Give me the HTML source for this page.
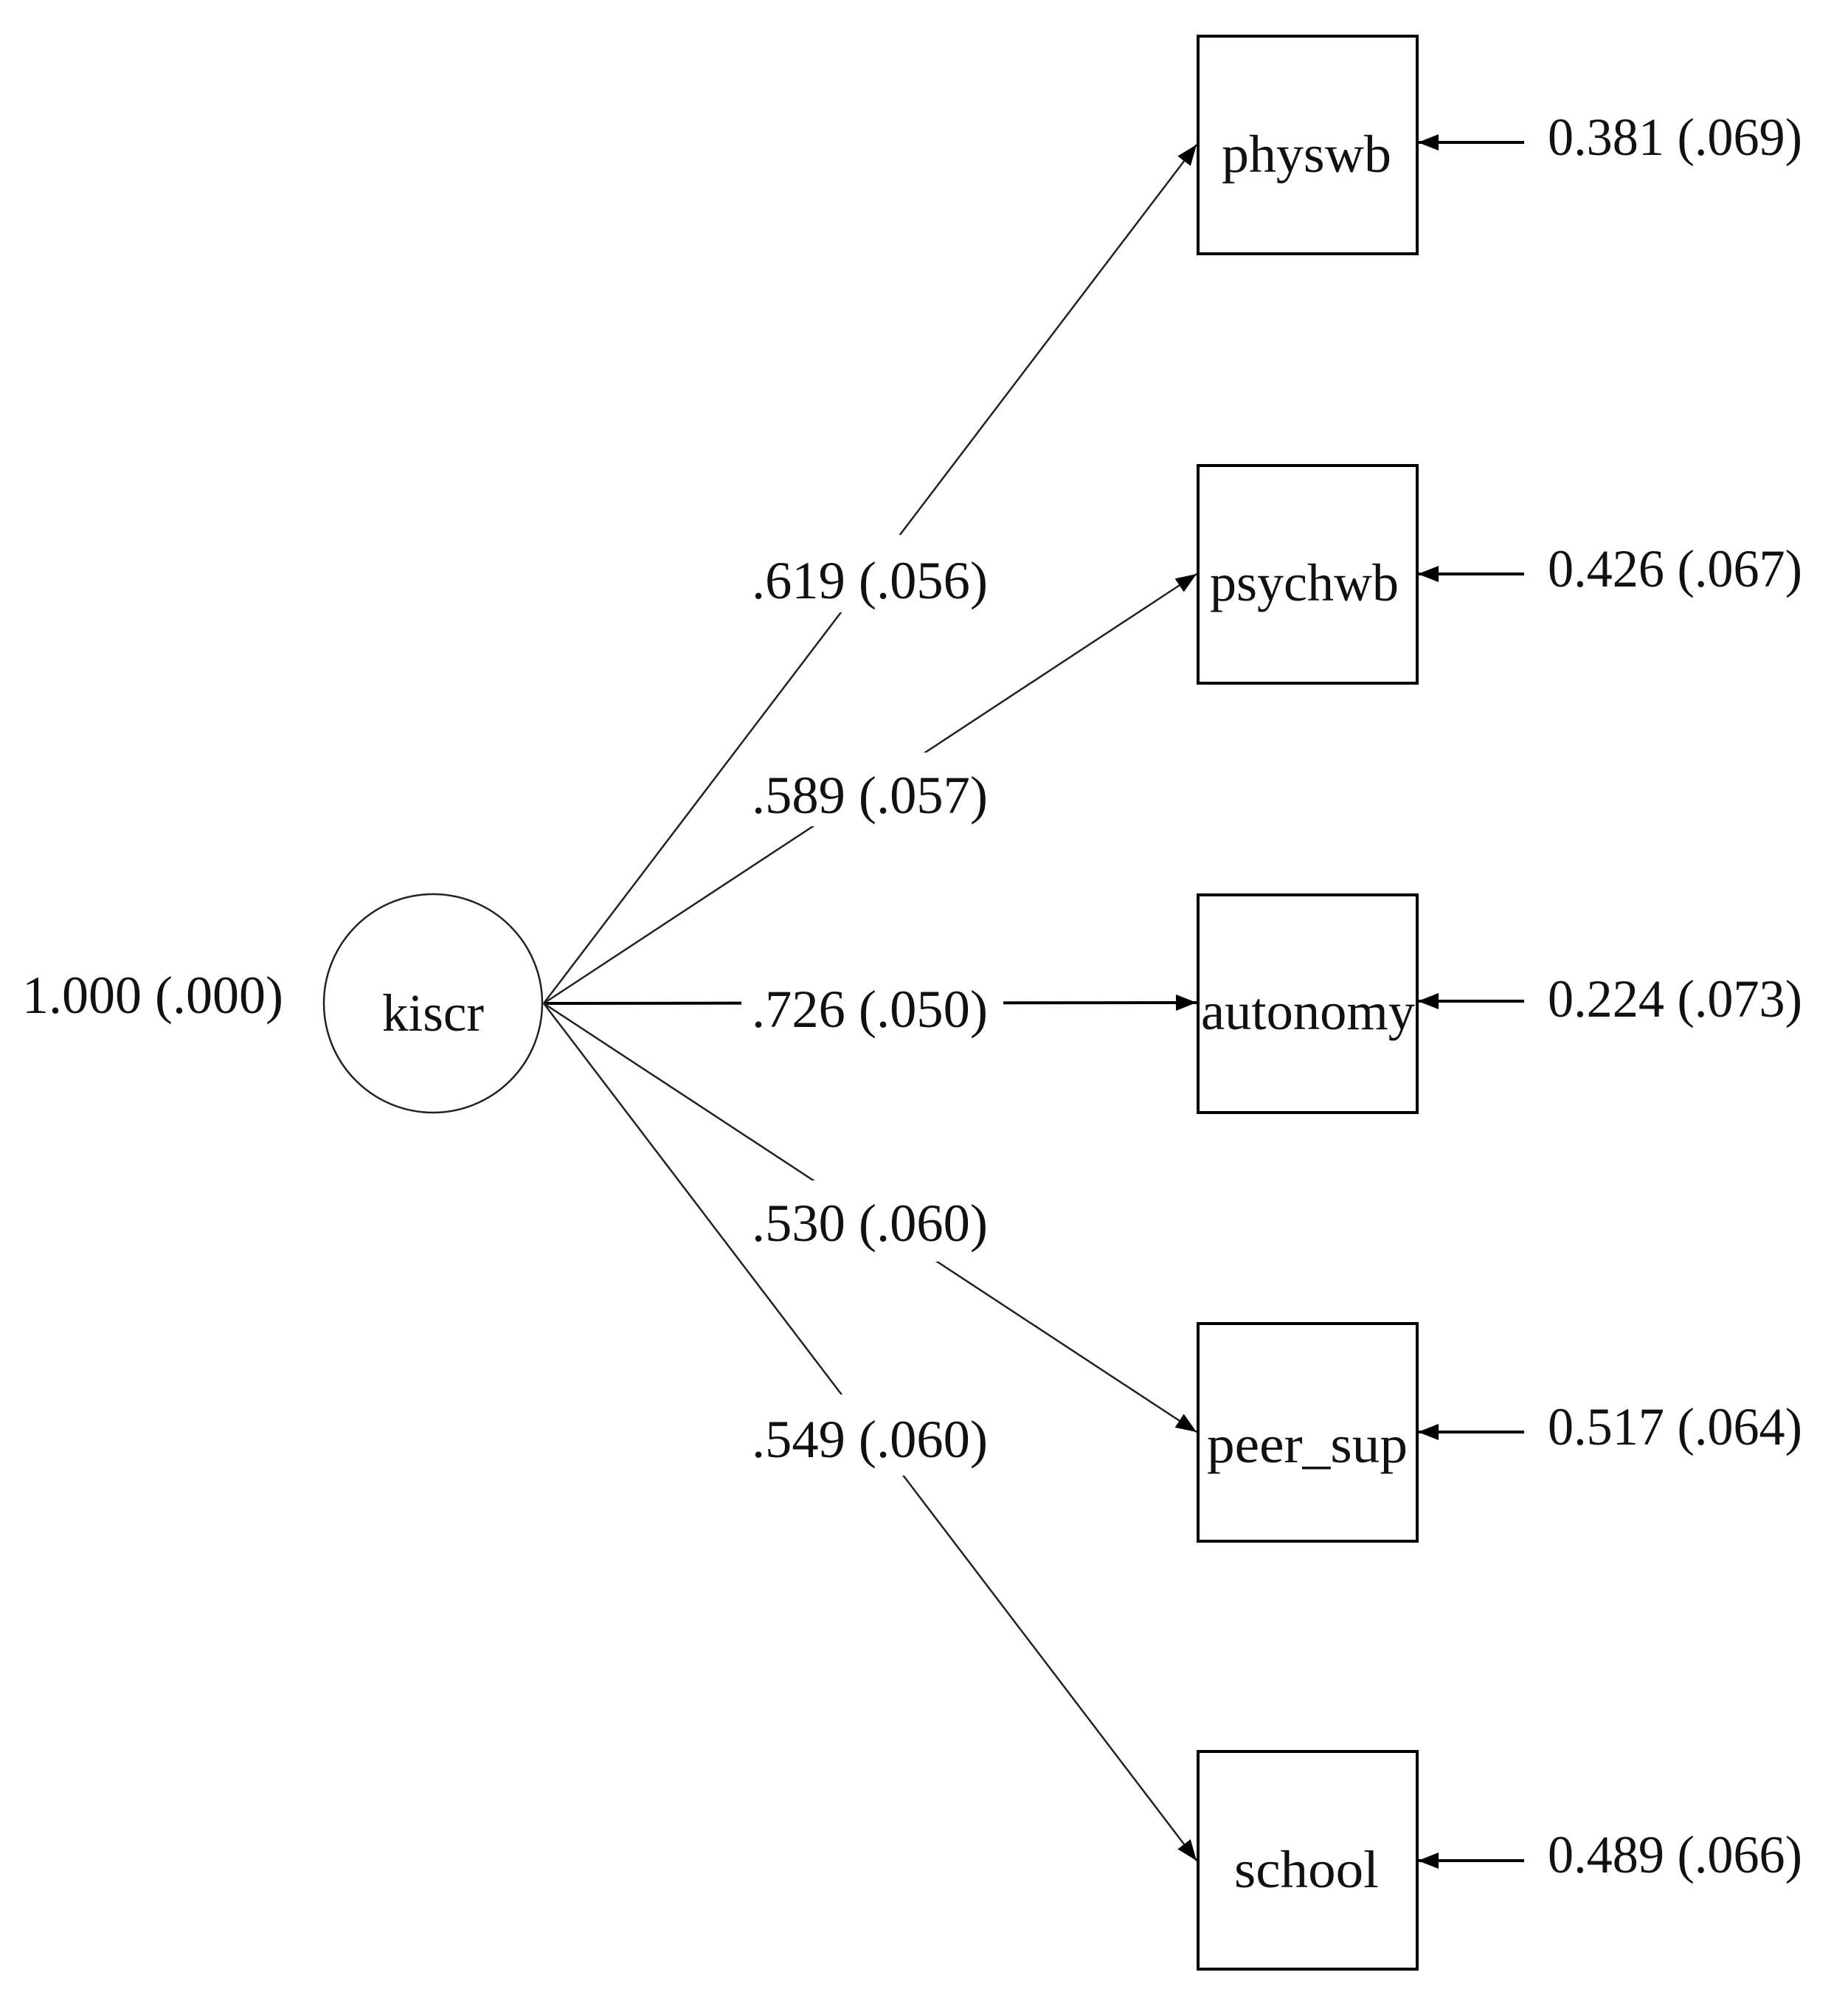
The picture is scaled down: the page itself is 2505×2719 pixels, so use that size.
<!DOCTYPE html>
<html><head><meta charset="utf-8"><style>
html,body{margin:0;padding:0;background:#fff;}
svg{display:block;}
text{font-family:"Liberation Serif",serif;fill:#111;}
</style></head><body>
<svg width="2505" height="2719" viewBox="0 0 2505 2719" xmlns="http://www.w3.org/2000/svg">
<defs>
<marker id="ah" markerWidth="30" markerHeight="22" refX="28" refY="11" orient="auto" markerUnits="userSpaceOnUse">
<path d="M0,0 L28,11 L0,22 Z" fill="#000"/>
</marker>
</defs>
<!-- loading paths -->
<g stroke="#222" stroke-width="2.5" fill="none">
<line x1="737" y1="1360" x2="1622" y2="196" marker-end="url(#ah)"/>
<line x1="737" y1="1360" x2="1622" y2="778" marker-end="url(#ah)"/>
<line x1="737" y1="1360" x2="1622" y2="1359" stroke="#000" stroke-width="4" marker-end="url(#ah)"/>
<line x1="737" y1="1360" x2="1622" y2="1941" marker-end="url(#ah)"/>
<line x1="737" y1="1360" x2="1622" y2="2522" marker-end="url(#ah)"/>
</g>
<!-- white gaps behind path labels -->
<g fill="#fff">
<rect x="1005" y="725" width="355" height="105"/>
<rect x="1005" y="1020" width="355" height="100"/>
<rect x="1005" y="1320" width="355" height="90"/>
<rect x="1005" y="1600" width="355" height="110"/>
<rect x="1005" y="1890" width="355" height="110"/>
</g>
<g font-size="72">
<text x="1019" y="811" textLength="320" lengthAdjust="spacingAndGlyphs">.619 (.056)</text>
<text x="1019" y="1102" textLength="320" lengthAdjust="spacingAndGlyphs">.589 (.057)</text>
<text x="1019" y="1392" textLength="320" lengthAdjust="spacingAndGlyphs">.726 (.050)</text>
<text x="1019" y="1682" textLength="320" lengthAdjust="spacingAndGlyphs">.530 (.060)</text>
<text x="1019" y="1975" textLength="320" lengthAdjust="spacingAndGlyphs">.549 (.060)</text>
</g>
<!-- latent -->
<circle cx="587" cy="1360" r="148" fill="#fff" stroke="#222" stroke-width="2.5"/>
<text x="518" y="1397" font-size="72" textLength="138" lengthAdjust="spacingAndGlyphs">kiscr</text>
<text x="30" y="1373" font-size="72" textLength="354" lengthAdjust="spacingAndGlyphs">1.000 (.000)</text>
<!-- boxes -->
<g fill="#fff" stroke="#000" stroke-width="4">
<rect x="1624" y="49" width="297" height="295"/>
<rect x="1624" y="631" width="297" height="295"/>
<rect x="1624" y="1213" width="297" height="295"/>
<rect x="1624" y="1794" width="297" height="295"/>
<rect x="1624" y="2374" width="297" height="295"/>
</g>
<g font-size="72">
<text x="1656" y="233" textLength="230" lengthAdjust="spacingAndGlyphs">physwb</text>
<text x="1640" y="814" textLength="256" lengthAdjust="spacingAndGlyphs">psychwb</text>
<text x="1628" y="1395" textLength="290" lengthAdjust="spacingAndGlyphs">autonomy</text>
<text x="1636" y="1982" textLength="272" lengthAdjust="spacingAndGlyphs">peer_sup</text>
<text x="1673" y="2558" textLength="196" lengthAdjust="spacingAndGlyphs">school</text>
</g>
<!-- error arrows -->
<g stroke="#000" stroke-width="4">
<line x1="2066" y1="193" x2="1922" y2="193" marker-end="url(#ah)"/>
<line x1="2066" y1="778" x2="1922" y2="778" marker-end="url(#ah)"/>
<line x1="2066" y1="1357" x2="1922" y2="1357" marker-end="url(#ah)"/>
<line x1="2066" y1="1941" x2="1922" y2="1941" marker-end="url(#ah)"/>
<line x1="2066" y1="2522" x2="1922" y2="2522" marker-end="url(#ah)"/>
</g>
<g font-size="72">
<text x="2098" y="210" textLength="345" lengthAdjust="spacingAndGlyphs">0.381 (.069)</text>
<text x="2098" y="795" textLength="345" lengthAdjust="spacingAndGlyphs">0.426 (.067)</text>
<text x="2098" y="1378" textLength="345" lengthAdjust="spacingAndGlyphs">0.224 (.073)</text>
<text x="2098" y="1958" textLength="345" lengthAdjust="spacingAndGlyphs">0.517 (.064)</text>
<text x="2098" y="2538" textLength="345" lengthAdjust="spacingAndGlyphs">0.489 (.066)</text>
</g>
</svg>
</body></html>
